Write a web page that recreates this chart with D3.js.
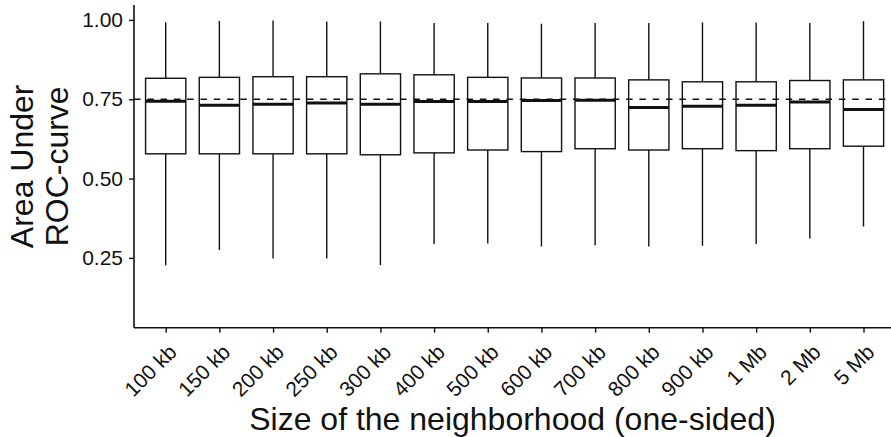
<!DOCTYPE html>
<html>
<head>
<meta charset="utf-8">
<script src="https://cdn.jsdelivr.net/npm/d3@7"></script>
<style>
  body { margin: 0; background: #fff; }
  svg { font-family: "Liberation Sans", Arial, sans-serif; }
</style>
</head>
<body>
<div id="chart"></div>
<script>
// neighborhood sizes (x categories)
var sizes = ["100 kb", "150 kb", "200 kb", "250 kb", "300 kb", "400 kb", "500 kb",
             "600 kb", "700 kb", "800 kb", "900 kb", "1 Mb", "2 Mb", "5 Mb"];

// boxplot stats
var whiskerHigh = [0.993, 0.997, 0.998, 0.995, 0.995, 0.990, 0.990, 0.988, 0.990, 0.990, 0.992, 0.992, 0.990, 0.996];
var upperQ      = [0.816, 0.819, 0.821, 0.821, 0.830, 0.827, 0.819, 0.817, 0.817, 0.811, 0.805, 0.805, 0.809, 0.811];
var medians     = [0.744, 0.731, 0.734, 0.738, 0.734, 0.743, 0.743, 0.746, 0.747, 0.724, 0.728, 0.731, 0.741, 0.718];
var lowerQ      = [0.578, 0.578, 0.578, 0.578, 0.575, 0.581, 0.590, 0.585, 0.594, 0.590, 0.594, 0.588, 0.594, 0.602];
var whiskerLow  = [0.227, 0.275, 0.248, 0.248, 0.227, 0.294, 0.295, 0.286, 0.290, 0.286, 0.288, 0.294, 0.311, 0.349];

var yTicks = [0.25, 0.50, 0.75, 1.00];
var refLine = 0.75;

function start(){
    var width = 891, height = 437;
    var left = 134, right = 891, top = 5, bottom = 327.7;
    var ink = "#111";

    var svg = d3.select("#chart").append("svg")
                .attr("width", width)
                .attr("height", height);

    var xScale = d3.scalePoint()
                   .domain(sizes)
                   .range([165.7, 863.5]);
    var step = xScale.step();
    var boxW = step * 0.75;

    var yScale = d3.scaleLinear()
                   .domain([0.030, 1.047])
                   .range([bottom, top]);

    var data = sizes.map(function(s, i){
        return {size: s, hi: whiskerHigh[i], q3: upperQ[i], med: medians[i], q1: lowerQ[i], lo: whiskerLow[i]};
    });

    var g = svg.selectAll("g.box")
               .data(data)
               .enter()
               .append("g")
               .attr("class", "box");

    // whiskers
    g.append("line")
     .attr("x1", d => xScale(d.size)).attr("x2", d => xScale(d.size))
     .attr("y1", d => yScale(d.hi)).attr("y2", d => yScale(d.q3))
     .attr("stroke", ink).attr("stroke-width", 1.4);
    g.append("line")
     .attr("x1", d => xScale(d.size)).attr("x2", d => xScale(d.size))
     .attr("y1", d => yScale(d.q1)).attr("y2", d => yScale(d.lo))
     .attr("stroke", ink).attr("stroke-width", 1.4);

    // boxes
    g.append("rect")
     .attr("x", d => xScale(d.size) - boxW / 2)
     .attr("y", d => yScale(d.q3))
     .attr("width", boxW)
     .attr("height", d => yScale(d.q1) - yScale(d.q3))
     .attr("fill", "white")
     .attr("stroke", ink)
     .attr("stroke-width", 1.4);

    // medians
    g.append("line")
     .attr("x1", d => xScale(d.size) - boxW / 2)
     .attr("x2", d => xScale(d.size) + boxW / 2)
     .attr("y1", d => yScale(d.med)).attr("y2", d => yScale(d.med))
     .attr("stroke", ink).attr("stroke-width", 3);

    // dashed reference line
    svg.append("line")
       .attr("x1", left).attr("x2", right)
       .attr("y1", yScale(refLine)).attr("y2", yScale(refLine))
       .attr("stroke", ink)
       .attr("stroke-width", 1.4)
       .attr("stroke-dasharray", "6.5,6.8");

    // y axis
    var yAxis = svg.append("g")
                   .attr("transform", "translate(" + left + ",0)")
                   .call(d3.axisLeft(yScale).tickValues(yTicks).tickFormat(d3.format(".2f")).tickSize(5).tickSizeOuter(0));
    yAxis.select(".domain").attr("d", "M0," + top + "V" + bottom);
    yAxis.selectAll("line").attr("stroke", ink).attr("stroke-width", 1.4);
    yAxis.selectAll("text")
         .attr("x", -11)
         .attr("fill", ink)
         .style("font-size", "21px");

    // x axis
    var xAxis = svg.append("g")
                   .attr("transform", "translate(0," + bottom + ")")
                   .call(d3.axisBottom(xScale).tickSize(5).tickSizeOuter(0));
    xAxis.select(".domain").attr("d", "M" + left + ",0H" + right);
    xAxis.selectAll("line").attr("stroke", ink).attr("stroke-width", 1.4);
    xAxis.selectAll("path").attr("stroke", ink).attr("stroke-width", 1.6);
    yAxis.selectAll("path").attr("stroke", ink).attr("stroke-width", 1.6);
    xAxis.selectAll("text")
         .attr("y", 0).attr("dy", "0.72em")
         .attr("transform", "translate(1,15) rotate(-45)")
         .attr("text-anchor", "end")
         .attr("fill", ink)
         .style("font-size", "21px");

    // axis titles
    svg.append("text")
       .attr("x", (left + right) / 2)
       .attr("y", 430)
       .attr("text-anchor", "middle")
       .attr("fill", ink)
       .style("font-size", "32px")
       .text("Size of the neighborhood (one-sided)");

    var yt = svg.append("text")
                .attr("transform", "translate(0," + (top + bottom) / 2 + ") rotate(-90)")
                .attr("text-anchor", "middle")
                .attr("fill", ink)
                .style("font-size", "32px");
    yt.append("tspan").attr("x", 0).attr("y", 33).text("Area Under");
    yt.append("tspan").attr("x", 0).attr("y", 68).text("ROC-curve");
}

start();
</script>
</body>
</html>
